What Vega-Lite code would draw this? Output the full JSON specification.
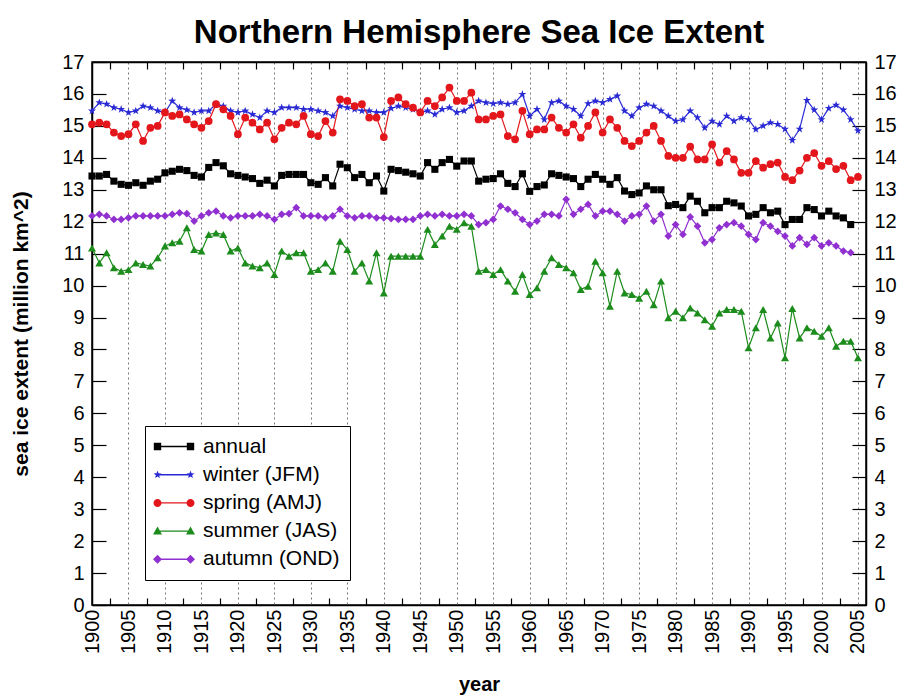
{
  "$schema": "https://vega.github.io/schema/vega-lite/v6.json",
  "width": 774,
  "height": 543,
  "autosize": "none",
  "padding": {"left": 92, "top": 62, "right": 35, "bottom": 93},
  "title": {"text": "Northern Hemisphere Sea Ice Extent", "fontSize": 33, "fontWeight": "bold", "font": "Liberation Sans", "color": "#000", "offset": 2, "anchor": "middle"},
  "data": {"values": [
    {"year":1900,"annual":13.43,"winter":15.47,"spring":15.05,"summer":11.18,"autumn":12.18},
    {"year":1901,"annual":13.43,"winter":15.73,"spring":15.10,"summer":10.71,"autumn":12.23},
    {"year":1902,"annual":13.48,"winter":15.68,"spring":15.05,"summer":11.03,"autumn":12.18},
    {"year":1903,"annual":13.27,"winter":15.57,"spring":14.79,"summer":10.56,"autumn":12.07},
    {"year":1904,"annual":13.17,"winter":15.52,"spring":14.68,"summer":10.45,"autumn":12.07},
    {"year":1905,"annual":13.14,"winter":15.42,"spring":14.74,"summer":10.50,"autumn":12.12},
    {"year":1906,"annual":13.22,"winter":15.47,"spring":15.05,"summer":10.71,"autumn":12.18},
    {"year":1907,"annual":13.14,"winter":15.62,"spring":14.53,"summer":10.66,"autumn":12.18},
    {"year":1908,"annual":13.27,"winter":15.57,"spring":14.94,"summer":10.61,"autumn":12.18},
    {"year":1909,"annual":13.33,"winter":15.47,"spring":15.00,"summer":10.87,"autumn":12.18},
    {"year":1910,"annual":13.53,"winter":15.42,"spring":15.42,"summer":11.24,"autumn":12.18},
    {"year":1911,"annual":13.58,"winter":15.78,"spring":15.31,"summer":11.34,"autumn":12.23},
    {"year":1912,"annual":13.64,"winter":15.57,"spring":15.36,"summer":11.39,"autumn":12.28},
    {"year":1913,"annual":13.60,"winter":15.50,"spring":15.20,"summer":11.81,"autumn":12.25},
    {"year":1914,"annual":13.45,"winter":15.42,"spring":15.05,"summer":11.13,"autumn":12.02},
    {"year":1915,"annual":13.40,"winter":15.47,"spring":14.94,"summer":11.08,"autumn":12.18},
    {"year":1916,"annual":13.70,"winter":15.47,"spring":15.15,"summer":11.60,"autumn":12.28},
    {"year":1917,"annual":13.85,"winter":15.68,"spring":15.68,"summer":11.65,"autumn":12.33},
    {"year":1918,"annual":13.75,"winter":15.62,"spring":15.52,"summer":11.60,"autumn":12.18},
    {"year":1919,"annual":13.50,"winter":15.47,"spring":15.31,"summer":11.08,"autumn":12.12},
    {"year":1920,"annual":13.45,"winter":15.42,"spring":14.74,"summer":11.18,"autumn":12.18},
    {"year":1921,"annual":13.40,"winter":15.47,"spring":15.26,"summer":10.71,"autumn":12.18},
    {"year":1922,"annual":13.35,"winter":15.36,"spring":15.10,"summer":10.61,"autumn":12.18},
    {"year":1923,"annual":13.20,"winter":15.26,"spring":14.89,"summer":10.56,"autumn":12.23},
    {"year":1924,"annual":13.30,"winter":15.47,"spring":15.10,"summer":10.71,"autumn":12.18},
    {"year":1925,"annual":13.12,"winter":15.42,"spring":14.58,"summer":10.35,"autumn":12.07},
    {"year":1926,"annual":13.45,"winter":15.57,"spring":14.94,"summer":11.08,"autumn":12.23},
    {"year":1927,"annual":13.48,"winter":15.57,"spring":15.10,"summer":10.92,"autumn":12.25},
    {"year":1928,"annual":13.48,"winter":15.57,"spring":15.05,"summer":11.03,"autumn":12.44},
    {"year":1929,"annual":13.48,"winter":15.52,"spring":15.31,"summer":11.03,"autumn":12.18},
    {"year":1930,"annual":13.22,"winter":15.52,"spring":14.74,"summer":10.45,"autumn":12.18},
    {"year":1931,"annual":13.17,"winter":15.47,"spring":14.68,"summer":10.50,"autumn":12.18},
    {"year":1932,"annual":13.38,"winter":15.42,"spring":15.15,"summer":10.71,"autumn":12.12},
    {"year":1933,"annual":13.12,"winter":15.31,"spring":14.79,"summer":10.45,"autumn":12.18},
    {"year":1934,"annual":13.80,"winter":15.62,"spring":15.83,"summer":11.39,"autumn":12.39},
    {"year":1935,"annual":13.69,"winter":15.57,"spring":15.78,"summer":11.13,"autumn":12.18},
    {"year":1936,"annual":13.38,"winter":15.52,"spring":15.62,"summer":10.45,"autumn":12.12},
    {"year":1937,"annual":13.48,"winter":15.47,"spring":15.68,"summer":10.71,"autumn":12.18},
    {"year":1938,"annual":13.22,"winter":15.47,"spring":15.26,"summer":10.14,"autumn":12.18},
    {"year":1939,"annual":13.43,"winter":15.42,"spring":15.26,"summer":11.03,"autumn":12.12},
    {"year":1940,"annual":12.96,"winter":15.42,"spring":14.65,"summer":9.77,"autumn":12.12},
    {"year":1941,"annual":13.64,"winter":15.55,"spring":15.78,"summer":10.92,"autumn":12.10},
    {"year":1942,"annual":13.60,"winter":15.62,"spring":15.89,"summer":10.92,"autumn":12.07},
    {"year":1943,"annual":13.55,"winter":15.57,"spring":15.68,"summer":10.92,"autumn":12.07},
    {"year":1944,"annual":13.50,"winter":15.52,"spring":15.57,"summer":10.92,"autumn":12.07},
    {"year":1945,"annual":13.43,"winter":15.42,"spring":15.42,"summer":10.92,"autumn":12.18},
    {"year":1946,"annual":13.85,"winter":15.47,"spring":15.78,"summer":11.76,"autumn":12.23},
    {"year":1947,"annual":13.64,"winter":15.36,"spring":15.62,"summer":11.29,"autumn":12.18},
    {"year":1948,"annual":13.85,"winter":15.52,"spring":15.89,"summer":11.55,"autumn":12.23},
    {"year":1949,"annual":13.95,"winter":15.57,"spring":16.20,"summer":11.86,"autumn":12.18},
    {"year":1950,"annual":13.74,"winter":15.42,"spring":15.78,"summer":11.76,"autumn":12.18},
    {"year":1951,"annual":13.90,"winter":15.47,"spring":15.78,"summer":11.97,"autumn":12.23},
    {"year":1952,"annual":13.90,"winter":15.62,"spring":16.04,"summer":11.86,"autumn":12.18},
    {"year":1953,"annual":13.27,"winter":15.78,"spring":15.20,"summer":10.45,"autumn":11.91},
    {"year":1954,"annual":13.33,"winter":15.73,"spring":15.20,"summer":10.50,"autumn":11.97},
    {"year":1955,"annual":13.35,"winter":15.70,"spring":15.31,"summer":10.35,"autumn":12.07},
    {"year":1956,"annual":13.50,"winter":15.73,"spring":15.36,"summer":10.50,"autumn":12.49},
    {"year":1957,"annual":13.20,"winter":15.68,"spring":14.68,"summer":10.14,"autumn":12.39},
    {"year":1958,"annual":13.10,"winter":15.73,"spring":14.58,"summer":9.82,"autumn":12.28},
    {"year":1959,"annual":13.50,"winter":15.99,"spring":15.47,"summer":10.35,"autumn":12.07},
    {"year":1960,"annual":12.95,"winter":15.31,"spring":14.74,"summer":9.72,"autumn":11.91},
    {"year":1961,"annual":13.10,"winter":15.52,"spring":14.89,"summer":9.93,"autumn":12.02},
    {"year":1962,"annual":13.15,"winter":15.20,"spring":14.89,"summer":10.45,"autumn":12.23},
    {"year":1963,"annual":13.50,"winter":15.73,"spring":15.26,"summer":10.87,"autumn":12.23},
    {"year":1964,"annual":13.45,"winter":15.78,"spring":14.94,"summer":10.66,"autumn":12.18},
    {"year":1965,"annual":13.40,"winter":15.62,"spring":14.79,"summer":10.56,"autumn":12.70},
    {"year":1966,"annual":13.35,"winter":15.52,"spring":15.05,"summer":10.40,"autumn":12.23},
    {"year":1967,"annual":13.10,"winter":15.31,"spring":14.63,"summer":9.88,"autumn":12.39},
    {"year":1968,"annual":13.33,"winter":15.70,"spring":15.00,"summer":9.98,"autumn":12.54},
    {"year":1969,"annual":13.48,"winter":15.78,"spring":15.42,"summer":10.76,"autumn":12.18},
    {"year":1970,"annual":13.33,"winter":15.73,"spring":14.79,"summer":10.40,"autumn":12.33},
    {"year":1971,"annual":13.17,"winter":15.83,"spring":15.20,"summer":9.35,"autumn":12.33},
    {"year":1972,"annual":13.38,"winter":15.94,"spring":14.94,"summer":10.45,"autumn":12.23},
    {"year":1973,"annual":12.96,"winter":15.47,"spring":14.53,"summer":9.77,"autumn":12.02},
    {"year":1974,"annual":12.85,"winter":15.31,"spring":14.37,"summer":9.72,"autumn":12.18},
    {"year":1975,"annual":12.90,"winter":15.57,"spring":14.53,"summer":9.60,"autumn":12.23},
    {"year":1976,"annual":13.12,"winter":15.68,"spring":14.79,"summer":9.82,"autumn":12.49},
    {"year":1977,"annual":13.00,"winter":15.62,"spring":15.00,"summer":9.40,"autumn":12.02},
    {"year":1978,"annual":13.00,"winter":15.47,"spring":14.53,"summer":10.14,"autumn":12.23},
    {"year":1979,"annual":12.50,"winter":15.31,"spring":14.06,"summer":8.99,"autumn":11.55},
    {"year":1980,"annual":12.54,"winter":15.15,"spring":14.00,"summer":9.20,"autumn":11.91},
    {"year":1981,"annual":12.44,"winter":15.20,"spring":14.00,"summer":8.99,"autumn":11.60},
    {"year":1982,"annual":12.80,"winter":15.47,"spring":14.35,"summer":9.30,"autumn":12.15},
    {"year":1983,"annual":12.64,"winter":15.26,"spring":13.95,"summer":9.14,"autumn":11.86},
    {"year":1984,"annual":12.28,"winter":14.94,"spring":13.95,"summer":8.93,"autumn":11.34},
    {"year":1985,"annual":12.44,"winter":15.15,"spring":14.42,"summer":8.73,"autumn":11.44},
    {"year":1986,"annual":12.44,"winter":15.05,"spring":13.85,"summer":9.14,"autumn":11.81},
    {"year":1987,"annual":12.64,"winter":15.31,"spring":14.21,"summer":9.25,"autumn":11.91},
    {"year":1988,"annual":12.59,"winter":15.15,"spring":13.95,"summer":9.25,"autumn":11.97},
    {"year":1989,"annual":12.49,"winter":15.26,"spring":13.53,"summer":9.20,"autumn":11.86},
    {"year":1990,"annual":12.18,"winter":15.20,"spring":13.53,"summer":8.05,"autumn":11.60},
    {"year":1991,"annual":12.23,"winter":14.89,"spring":13.90,"summer":8.68,"autumn":11.44},
    {"year":1992,"annual":12.44,"winter":15.00,"spring":13.69,"summer":9.25,"autumn":11.97},
    {"year":1993,"annual":12.28,"winter":15.10,"spring":13.80,"summer":8.36,"autumn":11.86},
    {"year":1994,"annual":12.33,"winter":15.05,"spring":13.85,"summer":8.83,"autumn":11.70},
    {"year":1995,"annual":11.91,"winter":14.90,"spring":13.40,"summer":7.74,"autumn":11.55},
    {"year":1996,"annual":12.07,"winter":14.55,"spring":13.30,"summer":9.28,"autumn":11.24},
    {"year":1997,"annual":12.07,"winter":14.90,"spring":13.60,"summer":8.36,"autumn":11.50},
    {"year":1998,"annual":12.44,"winter":15.80,"spring":14.00,"summer":8.68,"autumn":11.29},
    {"year":1999,"annual":12.38,"winter":15.50,"spring":14.15,"summer":8.57,"autumn":11.50},
    {"year":2000,"annual":12.18,"winter":15.20,"spring":13.75,"summer":8.41,"autumn":11.24},
    {"year":2001,"annual":12.33,"winter":15.55,"spring":13.90,"summer":8.68,"autumn":11.34},
    {"year":2002,"annual":12.18,"winter":15.65,"spring":13.65,"summer":8.10,"autumn":11.24},
    {"year":2003,"annual":12.12,"winter":15.50,"spring":13.75,"summer":8.26,"autumn":11.08},
    {"year":2004,"annual":11.91,"winter":15.20,"spring":13.30,"summer":8.26,"autumn":11.03},
    {"year":2005,"annual":null,"winter":14.85,"spring":13.40,"summer":7.74,"autumn":null}
  ]},
  "transform": [{"fold": ["annual", "winter", "spring", "summer", "autumn"], "as": ["series", "value"]}],
  "layer": [
    {
      "mark": {"type": "line", "strokeWidth": 1.2},
      "encoding": {
        "x": {"field": "year", "type": "quantitative",
          "scale": {"domain": [1900, 2006.1], "nice": false, "zero": false},
          "axis": {"orient": "bottom",
            "values": [1900,1902.5,1905,1907.5,1910,1912.5,1915,1917.5,1920,1922.5,1925,1927.5,1930,1932.5,1935,1937.5,1940,1942.5,1945,1947.5,1950,1952.5,1955,1957.5,1960,1962.5,1965,1967.5,1970,1972.5,1975,1977.5,1980,1982.5,1985,1987.5,1990,1992.5,1995,1997.5,2000,2002.5,2005],
            "format": "d",
            "labelExpr": "datum.value % 5 === 0 ? datum.label : ''",
            "labelAngle": -90, "labelAlign": "right", "labelBaseline": "middle",
            "labelFontSize": 20, "labelPadding": 11, "labelFlush": false, "labelOverlap": false,
            "tickSize": -7,
            "tickOpacity": {"condition": {"test": "datum.value % 5 === 0", "value": 0}, "value": 1},
            "grid": true, "gridDash": [2, 3], "gridColor": "#777",
            "gridOpacity": {"condition": {"test": "datum.value % 5 === 0", "value": 1}, "value": 0},
            "title": "year", "titleFontSize": 20, "titleFontWeight": "bold", "titlePadding": 21}},
        "y": {"field": "value", "type": "quantitative",
          "scale": {"domain": [0, 17], "nice": false},
          "axis": {"orient": "left", "values": [0,1,2,3,4,5,6,7,8,9,10,11,12,13,14,15,16,17],
            "tickSize": -14, "labelPadding": 22, "labelFontSize": 20, "labelFlush": false, "labelOverlap": false,
            "grid": false,
            "title": "sea ice extent (million km^2)", "titleFontSize": 21, "titleFontWeight": "bold", "titlePadding": 30}},
        "stroke": {"field": "series", "type": "nominal",
          "scale": {"domain": ["annual", "winter", "spring", "summer", "autumn"], "range": ["#000000", "#2a2ad4", "#e3161c", "#1c8c1c", "#9030d0"]},
          "legend": null}
      }
    },
    {
      "transform": [{"filter": "datum.series === 'annual'"}],
      "mark": {"type": "point", "filled": true, "size": 50, "shape": "square", "color": "#000000", "opacity": 1},
      "encoding": {
        "x": {"field": "year", "type": "quantitative",
          "scale": {"domain": [1900, 2006.1], "nice": false, "zero": false},
          "axis": {"orient": "top",
            "values": [1900,1902.5,1905,1907.5,1910,1912.5,1915,1917.5,1920,1922.5,1925,1927.5,1930,1932.5,1935,1937.5,1940,1942.5,1945,1947.5,1950,1952.5,1955,1957.5,1960,1962.5,1965,1967.5,1970,1972.5,1975,1977.5,1980,1982.5,1985,1987.5,1990,1992.5,1995,1997.5,2000,2002.5,2005],
            "labels": false, "tickSize": -7,
            "tickOpacity": {"condition": {"test": "datum.value % 5 === 0", "value": 0}, "value": 1},
            "grid": false, "title": null}},
        "y": {"field": "value", "type": "quantitative",
          "scale": {"domain": [0, 17], "nice": false},
          "axis": {"orient": "right", "values": [0,1,2,3,4,5,6,7,8,9,10,11,12,13,14,15,16,17],
            "tickSize": -14, "labelPadding": 22, "labelFontSize": 20, "labelFlush": false, "labelOverlap": false,
            "grid": false, "title": null}}
      }
    },
    {
      "transform": [{"filter": "datum.series === 'winter'"}],
      "mark": {"type": "point", "filled": true, "size": 70, "shape": "M0,-1L0.235,-0.324L0.951,-0.309L0.38,0.124L0.588,0.809L0,0.4L-0.588,0.809L-0.38,0.124L-0.951,-0.309L-0.235,-0.324Z", "color": "#2a2ad4", "opacity": 1},
      "encoding": {
        "x": {"field": "year", "type": "quantitative", "axis": null},
        "y": {"field": "value", "type": "quantitative", "axis": null}
      }
    },
    {
      "transform": [{"filter": "datum.series === 'spring'"}],
      "mark": {"type": "point", "filled": true, "size": 60, "shape": "circle", "color": "#e3161c", "opacity": 1},
      "encoding": {
        "x": {"field": "year", "type": "quantitative", "axis": null},
        "y": {"field": "value", "type": "quantitative", "axis": null}
      }
    },
    {
      "transform": [{"filter": "datum.series === 'summer'"}],
      "mark": {"type": "point", "filled": true, "size": 65, "shape": "triangle-up", "color": "#1c8c1c", "opacity": 1},
      "encoding": {
        "x": {"field": "year", "type": "quantitative", "axis": null},
        "y": {"field": "value", "type": "quantitative", "axis": null}
      }
    },
    {
      "transform": [{"filter": "datum.series === 'autumn'"}],
      "mark": {"type": "point", "filled": true, "size": 60, "shape": "diamond", "color": "#9030d0", "opacity": 1},
      "encoding": {
        "x": {"field": "year", "type": "quantitative", "axis": null},
        "y": {"field": "value", "type": "quantitative", "axis": null}
      }
    },
    {
      "mark": {"type": "point", "filled": true, "opacity": 1, "clip": true},
      "encoding": {
        "x": {"field": "year", "type": "quantitative", "axis": null},
        "y": {"datum": -10, "type": "quantitative", "axis": null, "scale": {"domain": [0, 17], "nice": false}},
        "color": {"field": "series", "type": "nominal",
          "scale": {"domain": ["annual", "winter", "spring", "summer", "autumn"], "range": ["#000000", "#2a2ad4", "#e3161c", "#1c8c1c", "#9030d0"]},
          "legend": {"title": null, "orient": "none", "legendX": 53, "legendY": 364,
            "padding": 10, "strokeColor": "#000", "fillColor": "#fff",
            "symbolSize": 400, "symbolStrokeWidth": 0,
            "labelFontSize": 21, "labelFont": "Liberation Sans", "labelColor": "#000", "labelOffset": 27, "labelLimit": 300,
            "rowPadding": 6.2,
            "labelExpr": "{'annual': 'annual', 'winter': 'winter (JFM)', 'spring': 'spring (AMJ)', 'summer': 'summer (JAS)', 'autumn': 'autumn (OND)'}[datum.label]"}},
        "shape": {"field": "series", "type": "nominal",
          "scale": {"domain": ["annual", "winter", "spring", "summer", "autumn"],
            "range": [
              "M-1.17,-0.37H-0.43V0.37H-1.17Z M2.13,-0.37H2.87V0.37H2.13Z M-0.8,-0.07H2.5V0.07H-0.8Z",
              "M-0.8,-0.42L-0.702,-0.136L-0.401,-0.13L-0.64,0.052L-0.553,0.34L-0.8,0.168L-1.047,0.34L-0.96,0.052L-1.199,-0.13L-0.898,-0.136Z M2.5,-0.42L2.598,-0.136L2.899,-0.13L2.66,0.052L2.747,0.34L2.5,0.168L2.253,0.34L2.34,0.052L2.101,-0.13L2.402,-0.136Z M-0.8,-0.07H2.5V0.07H-0.8Z",
              "M-1.2,0A0.4,0.4 0 1,1 -0.4,0A0.4,0.4 0 1,1 -1.2,0Z M2.1,0A0.4,0.4 0 1,1 2.9,0A0.4,0.4 0 1,1 2.1,0Z M-0.8,-0.07H2.5V0.07H-0.8Z",
              "M-0.8,-0.45L-0.35,0.33H-1.25Z M2.5,-0.45L2.95,0.33H2.05Z M-0.8,-0.07H2.5V0.07H-0.8Z",
              "M-0.8,-0.45L-0.35,0L-0.8,0.45L-1.25,0Z M2.5,-0.45L2.95,0L2.5,0.45L2.05,0Z M-0.8,-0.07H2.5V0.07H-0.8Z"
            ]},
          "legend": {"title": null, "orient": "none", "legendX": 53, "legendY": 364,
            "padding": 10, "strokeColor": "#000", "fillColor": "#fff",
            "symbolSize": 400, "symbolStrokeWidth": 0,
            "labelFontSize": 21, "labelFont": "Liberation Sans", "labelColor": "#000", "labelOffset": 27, "labelLimit": 300,
            "rowPadding": 6.2,
            "labelExpr": "{'annual': 'annual', 'winter': 'winter (JFM)', 'spring': 'spring (AMJ)', 'summer': 'summer (JAS)', 'autumn': 'autumn (OND)'}[datum.label]"}}
      }
    }
  ],
  "resolve": {"scale": {"color": "independent", "shape": "independent"}, "axis": {"x": "independent", "y": "independent"}},
  "config": {
    "font": "Liberation Sans",
    "view": {"stroke": "#000", "strokeWidth": 1.5},
    "axis": {"labelFont": "Liberation Sans", "titleFont": "Liberation Sans", "labelColor": "#000", "titleColor": "#000", "domainColor": "#000", "domainWidth": 1.5, "tickColor": "#000", "tickWidth": 1.2}
  }
}
